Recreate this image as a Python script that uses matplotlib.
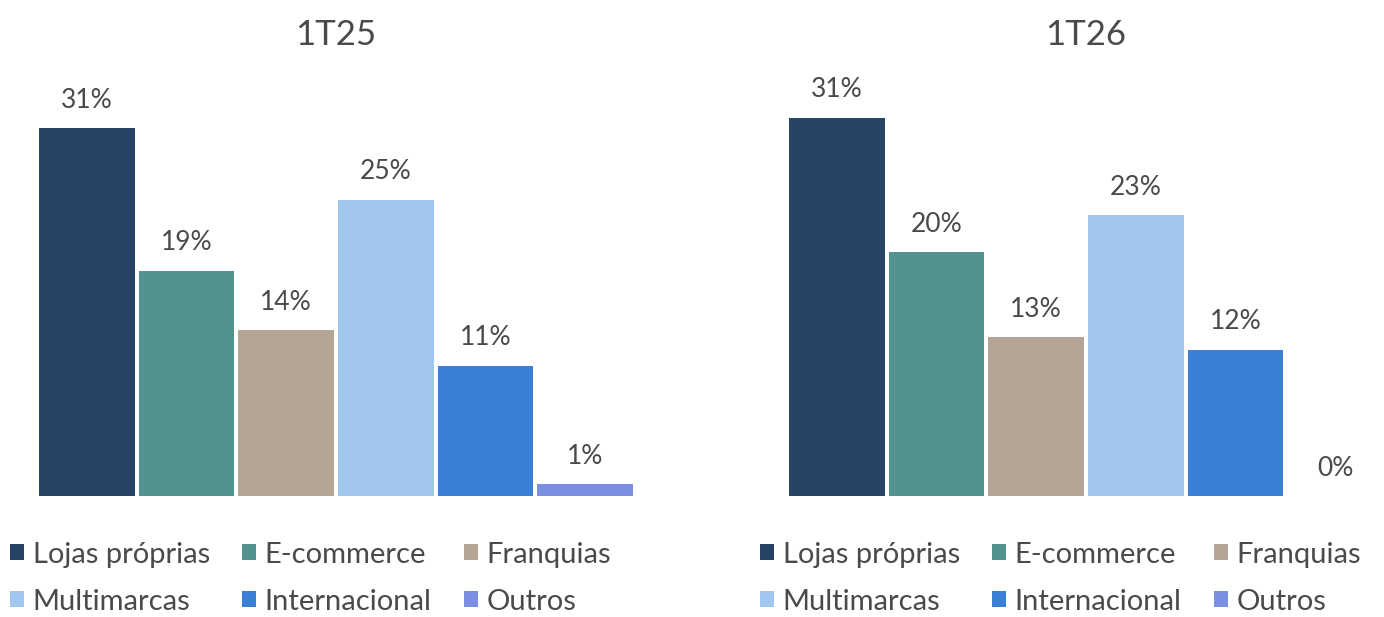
import matplotlib.pyplot as plt
from matplotlib.patches import Patch

categories = ['Lojas próprias', 'E-commerce', 'Franquias',
              'Multimarcas', 'Internacional', 'Outros']
share_1t25 = [31, 19, 14, 25, 11, 1]
share_1t26 = [31, 20, 13, 23, 12, 0]
colors = ['#264466', '#53928F', '#B5A596', '#A1C6EE', '#3B80D8', '#7B8FE2']

plt.rcParams['font.family'] = ['Lato', 'DejaVu Sans']
text_color = '#4a4a4a'

W, H = 1384, 617
fig = plt.figure(figsize=(W / 100, H / 100), dpi=100)

# legend fills column by column, so reorder to read row by row
legend_order = [0, 3, 1, 4, 2, 5]


def panel(left, title, values, ytop):
    # axes placed in pixel terms, baseline at y=496
    ax = fig.add_axes([left / W, (H - 496) / H, 598 / W, 415 / H])
    x = range(len(values))
    bars = ax.bar(x, values, width=0.96, color=colors)
    ax.bar_label(bars, labels=[f'{v}%' for v in values], padding=11,
                 fontsize=19, color=text_color)
    ax.set_xlim(-0.5, 5.5)
    ax.set_ylim(0, ytop)
    ax.axis('off')
    fig.text((left + 299) / W, 1 - 35 / H, title, ha='center', va='center',
             fontsize=25, color=text_color)
    handles = [Patch(facecolor=colors[i], label=categories[i]) for i in legend_order]
    ax.legend(handles=handles, ncol=3, frameon=False,
              loc='upper left', bbox_to_anchor=(-27 / 598, -0.11),
              borderaxespad=0, borderpad=0,
              fontsize=21, labelcolor=text_color,
              handlelength=0.47, handleheight=0.47, handletextpad=0.31,
              columnspacing=1.1, labelspacing=0.72)
    return ax


panel(37, '1T25', share_1t25, 35)
panel(787, '1T26', share_1t26, 34)

fig.savefig('out.png', dpi=100)
